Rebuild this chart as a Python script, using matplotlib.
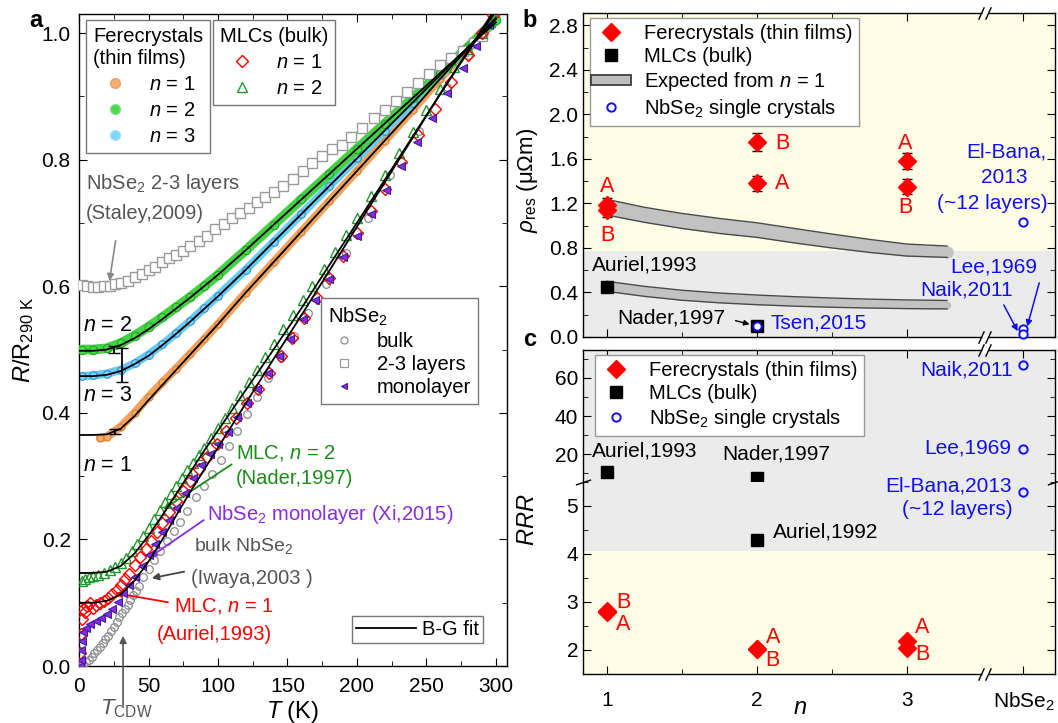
import matplotlib
matplotlib.use("Agg")
import matplotlib.pyplot as plt
import matplotlib.transforms as mtransforms
import matplotlib.patheffects as pe
from matplotlib.lines import Line2D
from matplotlib.ticker import MultipleLocator

plt.rcParams["font.family"] = ["Liberation Sans", "DejaVu Sans"]
plt.rcParams["mathtext.fontset"] = "custom"
plt.rcParams["mathtext.rm"] = "Liberation Sans"
plt.rcParams["mathtext.it"] = "Liberation Sans:italic"
plt.rcParams["mathtext.bf"] = "Liberation Sans:bold"
plt.rcParams["axes.linewidth"] = 1.0

# ---------------- panel a data: R/R290K vs T ----------------
fere1_T = [15, 20, 30, 40, 50, 60, 70, 80, 90, 100, 120, 140, 160, 180, 200, 220, 240, 260, 280, 290, 300]
fere1_R = [0.360, 0.362, 0.378, 0.400, 0.425, 0.448, 0.470, 0.493, 0.516, 0.540, 0.590, 0.638, 0.686,
           0.734, 0.782, 0.830, 0.878, 0.928, 0.976, 1.000, 1.024]
fere2_T = [2, 10, 20, 30, 40, 50, 60, 70, 80, 90, 100, 120, 140, 160, 180, 200, 220, 240, 260, 280, 290, 300]
fere2_R = [0.500, 0.500, 0.502, 0.510, 0.522, 0.536, 0.551, 0.567, 0.583, 0.600, 0.618, 0.657, 0.697,
           0.737, 0.777, 0.817, 0.857, 0.897, 0.937, 0.978, 1.000, 1.020]
fere3_T = [2, 10, 20, 30, 40, 50, 60, 70, 80, 90, 100, 120, 140, 160, 180, 200, 220, 240, 260, 280, 290, 300]
fere3_R = [0.458, 0.459, 0.462, 0.468, 0.478, 0.492, 0.508, 0.526, 0.545, 0.565, 0.585, 0.626, 0.670,
           0.714, 0.758, 0.802, 0.846, 0.890, 0.934, 0.978, 1.000, 1.022]

mlc2_T = [2, 4, 7, 10, 14, 18, 22, 26, 30, 34, 38, 42, 46, 50, 54, 58, 62, 66, 70, 74, 78, 82, 86, 90, 95,
          100, 105, 110, 116, 122, 128, 134, 140, 147, 154, 161, 168, 176, 184, 192, 200, 210, 220, 230,
          240, 250, 260, 270, 280, 290, 296]
mlc2_R = [0.135, 0.138, 0.140, 0.142, 0.144, 0.147, 0.151, 0.156, 0.163, 0.171, 0.181, 0.193, 0.205,
          0.218, 0.232, 0.246, 0.259, 0.272, 0.285, 0.297, 0.309, 0.321, 0.333, 0.345, 0.360, 0.376,
          0.392, 0.408, 0.428, 0.448, 0.468, 0.488, 0.508, 0.532, 0.555, 0.578, 0.600, 0.627, 0.654,
          0.681, 0.708, 0.742, 0.776, 0.810, 0.844, 0.878, 0.912, 0.946, 0.975, 1.000, 1.018]
mlc1_T = [1, 1.5, 2, 3, 4, 6, 8, 10, 12, 15, 18, 21, 24, 27, 30, 33, 36, 40, 44, 48, 52, 56, 60, 65, 70,
          75, 80, 86, 92, 99, 106, 113, 121, 129, 137, 145, 153, 162, 171, 180, 190, 200, 210, 220, 232,
          244, 256, 268, 280, 290, 298]
mlc1_R = [0.020, 0.050, 0.075, 0.090, 0.085, 0.095, 0.100, 0.092, 0.097, 0.100, 0.103, 0.107, 0.113,
          0.120, 0.128, 0.137, 0.146, 0.159, 0.172, 0.185, 0.198, 0.212, 0.226, 0.243, 0.260, 0.277,
          0.293, 0.311, 0.330, 0.350, 0.372, 0.392, 0.416, 0.437, 0.463, 0.490, 0.518, 0.550, 0.581,
          0.613, 0.648, 0.684, 0.719, 0.754, 0.796, 0.839, 0.880, 0.923, 0.965, 1.000, 1.028]
mono_T = [0.8, 1.2, 1.6, 2, 3, 5, 8, 12, 16, 20, 24, 28, 32, 36, 40, 45, 50, 55, 60, 65, 70, 76, 82, 88,
          94, 100, 107, 114, 121, 128, 136, 144, 152, 161, 170, 180, 190, 200, 210, 221, 232, 243, 254,
          265, 276, 286, 295]
mono_R = [0.0, 0.010, 0.025, 0.040, 0.053, 0.060, 0.066, 0.071, 0.076, 0.082, 0.090, 0.101, 0.115,
          0.128, 0.141, 0.158, 0.175, 0.193, 0.212, 0.231, 0.250, 0.274, 0.297, 0.317, 0.335, 0.350,
          0.370, 0.393, 0.415, 0.437, 0.463, 0.490, 0.517, 0.548, 0.578, 0.612, 0.646, 0.680, 0.714,
          0.752, 0.790, 0.828, 0.866, 0.905, 0.944, 0.980, 1.012]
bulk_T = [1, 3, 5, 7, 9, 11, 13, 15, 17, 19, 21, 23, 25, 27, 29, 31, 33, 35, 37, 39, 41, 43, 46, 50, 54,
          58, 63, 68, 73, 78, 84, 90, 96, 102, 108, 114, 121, 128, 136, 145, 155, 165, 178, 192, 208,
          224, 245, 265, 280, 290]
bulk_R = [0.0, 0.003, 0.006, 0.010, 0.015, 0.020, 0.025, 0.030, 0.036, 0.042, 0.048, 0.055, 0.062,
          0.070, 0.077, 0.084, 0.090, 0.097, 0.105, 0.112, 0.119, 0.127, 0.140, 0.154, 0.168, 0.182,
          0.198, 0.213, 0.227, 0.245, 0.267, 0.285, 0.303, 0.325, 0.347, 0.371, 0.398, 0.425, 0.455,
          0.487, 0.522, 0.557, 0.603, 0.652, 0.708, 0.775, 0.845, 0.915, 0.965, 1.000]
layers_T = [2, 6, 10, 14, 18, 22, 26, 30, 35, 40, 45, 50, 55, 60, 65, 70, 75, 80, 86, 92, 98, 104, 110,
            116, 122, 128, 134, 140, 147, 154, 161, 168, 175, 182, 189, 196, 204, 212, 220, 228, 236,
            244, 252, 260, 268, 276, 284, 290]
layers_R = [0.602, 0.600, 0.598, 0.599, 0.600, 0.601, 0.603, 0.605, 0.609, 0.614, 0.619, 0.625, 0.631,
            0.638, 0.644, 0.650, 0.656, 0.663, 0.671, 0.680, 0.690, 0.699, 0.708, 0.716, 0.724, 0.733,
            0.741, 0.749, 0.759, 0.770, 0.782, 0.794, 0.806, 0.816, 0.823, 0.836, 0.850, 0.865, 0.879,
            0.893, 0.907, 0.921, 0.935, 0.949, 0.961, 0.972, 0.984, 0.995]

# Bloch-Gruneisen fits
fit_T = [0, 10, 20, 30, 40, 50, 60, 70, 80, 90, 100, 120, 140, 160, 180, 200, 220, 240, 260, 280, 300]
fit_fere1 = [0.365, 0.365, 0.366, 0.375, 0.395, 0.420, 0.444, 0.468, 0.492, 0.516, 0.540, 0.590, 0.638,
             0.686, 0.734, 0.782, 0.830, 0.878, 0.928, 0.976, 1.024]
fit_fere2 = [0.498, 0.498, 0.500, 0.507, 0.518, 0.532, 0.548, 0.565, 0.582, 0.600, 0.618, 0.657, 0.697,
             0.737, 0.777, 0.817, 0.857, 0.897, 0.937, 0.977, 1.017]
fit_fere3 = [0.458, 0.458, 0.460, 0.466, 0.477, 0.490, 0.507, 0.525, 0.544, 0.564, 0.584, 0.626, 0.670,
             0.714, 0.758, 0.802, 0.846, 0.890, 0.934, 0.978, 1.022]
fit_mlc_T = [0, 10, 20, 30, 40, 50, 60, 70, 80, 90, 100, 110, 120, 130, 140, 160, 180, 200, 220, 240,
             260, 280, 300]
fit_mlc2 = [0.147, 0.147, 0.149, 0.158, 0.178, 0.206, 0.238, 0.272, 0.306, 0.340, 0.372, 0.404, 0.436,
            0.468, 0.500, 0.565, 0.633, 0.700, 0.768, 0.836, 0.904, 0.970, 1.035]
fit_mlc1 = [0.100, 0.100, 0.103, 0.113, 0.135, 0.165, 0.200, 0.238, 0.275, 0.310, 0.345, 0.380, 0.415,
            0.450, 0.485, 0.554, 0.624, 0.694, 0.764, 0.834, 0.904, 0.972, 1.040]

# error bars at low T (T, R, err) for n = 2, 3, 1
err_T = [25, 30.7, 26]
err_R = [0.500, 0.475, 0.371]
err_dR = [0.006, 0.027, 0.004]

# ---------------- panel b data: residual resistivity ----------------
b_fere_n = [1, 1, 2, 2, 3, 3]
b_fere_rho = [1.19, 1.14, 1.38, 1.75, 1.58, 1.35]
b_fere_err = [0.06, 0.06, 0.065, 0.08, 0.07, 0.065]
b_mlc_n = [1, 2]
b_mlc_rho = [0.45, 0.10]
nbse2_pos = 3.78
b_sc_x = [2, nbse2_pos, nbse2_pos, nbse2_pos]
b_sc_rho = [0.10, 1.03, 0.07, 0.03]

exp_n = [1.0, 1.25, 1.5, 1.75, 2.0, 2.25, 2.5, 2.75, 3.0, 3.27]
exp_hi_top = [1.236, 1.165, 1.110, 1.065, 1.026, 0.975, 0.925, 0.877, 0.835, 0.817]
exp_hi_bot = [1.095, 1.030, 0.975, 0.930, 0.895, 0.845, 0.800, 0.760, 0.727, 0.715]
exp_lo_top = [0.500, 0.455, 0.420, 0.395, 0.377, 0.362, 0.350, 0.340, 0.333, 0.328]
exp_lo_bot = [0.410, 0.365, 0.330, 0.307, 0.290, 0.277, 0.267, 0.260, 0.255, 0.252]

# ---------------- panel c data: RRR ----------------
c_fere_n = [1, 1, 2, 2, 3, 3]
c_fere_rrr = [2.79, 2.81, 2.03, 2.02, 2.19, 2.05]
c_mlc_n = [1, 2, 2]
c_mlc_rrr = [11.0, 7.4, 4.29]
c_sc_x = [nbse2_pos, nbse2_pos, nbse2_pos]
c_sc_rrr = [67.0, 23.0, 5.3]
c_break = 5.5

RED = "#FF0000"
BLUE = "#1010EE"
GREEN_T = "#1A8C1A"
PURPLE = "#8A2BE2"
GREY_T = "#555555"
YELLOW = "#FFFDE6"
LGREY = "#EBEBEB"
FS = 14.5

fig = plt.figure(figsize=(10.58, 7.23), dpi=100)

# ======================= panel a =======================
ax = fig.add_axes([0.0747, 0.0788, 0.4045, 0.9018])
ax.plot(fere1_T, fere1_R, color="#F3A25A", lw=6, zorder=2, solid_capstyle="round")
ax.plot(fere1_T, fere1_R, ls="none", marker="o", ms=5, mfc="#F7AD6E", mec="#E47F2A", mew=0.8, zorder=2)
ax.plot(fere3_T, fere3_R, color="#66CCF5", lw=6, zorder=2, solid_capstyle="round")
ax.plot(fere3_T, fere3_R, ls="none", marker="o", ms=5.5, mfc="#7FD6F7", mec="#2E8BE0", mew=0.8, zorder=2)
ax.plot(fere2_T, fere2_R, color="#44D244", lw=7, zorder=3, solid_capstyle="round")
ax.plot(fere2_T, fere2_R, ls="none", marker="o", ms=6, mfc="#4CD94C", mec="#22A822", mew=0.8, zorder=3)

ax.plot(layers_T, layers_R, ls="none", marker="s", ms=7, mfc="white", mec="#9A9A9A", mew=1, zorder=3)
ax.plot(bulk_T, bulk_R, ls="none", marker="o", ms=5.5, mfc="none", mec="#8A8A8A", mew=0.9, zorder=3)
ax.plot(mlc2_T, mlc2_R, ls="none", marker="^", ms=7, mfc="none", mec="#22992A", mew=1, zorder=3)
ax.plot(mlc1_T, mlc1_R, ls="none", marker="D", ms=6, mfc="none", mec=RED, mew=1, zorder=3)
ax.plot(mono_T, mono_R, ls="none", marker="<", ms=6, mfc="#8A2BE2", mec="#3B1FA0", mew=0.8, zorder=4)

for fy in (fit_fere1, fit_fere2, fit_fere3):
    ax.plot(fit_T, fy, color="black", lw=1.3, zorder=5)
for fy in (fit_mlc1, fit_mlc2):
    ax.plot(fit_mlc_T, fy, color="black", lw=1.3, zorder=5)
ax.errorbar(err_T, err_R, yerr=err_dR, fmt="none", ecolor="black", elinewidth=1.3, capsize=4, zorder=6)

ax.set_xlim(0, 308)
ax.set_ylim(0, 1.03)
ax.xaxis.set_major_locator(MultipleLocator(50))
ax.xaxis.set_minor_locator(MultipleLocator(25))
ax.yaxis.set_major_locator(MultipleLocator(0.2))
ax.yaxis.set_minor_locator(MultipleLocator(0.1))
ax.tick_params(which="both", direction="in", top=True, right=True, labelsize=15)
ax.tick_params(which="major", length=6)
ax.tick_params(which="minor", length=3.5)
ax.tick_params(axis="x", pad=8)
ax.tick_params(axis="y", pad=6)
ax.set_xlabel(r"$T$ (K)", fontsize=17, labelpad=2)
ax.set_ylabel(r"$R$/R$_{\rm 290\ K}$", fontsize=17, labelpad=4)

# legends of panel a
fh = [Line2D([], [], ls="none", marker="o", ms=7, mfc="#F7AD6E", mec="#E8A070"),
      Line2D([], [], ls="none", marker="o", ms=7, mfc="#4CD94C", mec="#7AE07A"),
      Line2D([], [], ls="none", marker="o", ms=7, mfc="#7FD6F7", mec="#A0E0F8")]
leg1 = ax.legend(fh, [r"$n$ = 1", r"$n$ = 2", r"$n$ = 3"], title="Ferecrystals\n(thin films)",
                 loc="upper left", bbox_to_anchor=(0.016, 0.991), borderaxespad=0, fontsize=FS,
                 title_fontsize=FS, alignment="left", fancybox=False, edgecolor="#777777",
                 framealpha=1, handlelength=2.2, handletextpad=0.6, labelspacing=0.35, borderpad=0.35)
ax.add_artist(leg1)
mh = [Line2D([], [], ls="none", marker="D", ms=6, mfc="none", mec=RED, mew=1),
      Line2D([], [], ls="none", marker="^", ms=7, mfc="none", mec="#22992A", mew=1)]
leg2 = ax.legend(mh, [r"$n$ = 1", r"$n$ = 2"], title="MLCs (bulk)", loc="upper left",
                 bbox_to_anchor=(0.313, 0.991), borderaxespad=0, fontsize=FS, title_fontsize=FS,
                 alignment="left", fancybox=False, edgecolor="#777777", framealpha=1,
                 handlelength=2.2, handletextpad=0.6, labelspacing=0.35, borderpad=0.35)
ax.add_artist(leg2)
nh = [Line2D([], [], ls="none", marker="o", ms=5, mfc="none", mec="#8A8A8A", mew=0.9),
      Line2D([], [], ls="none", marker="s", ms=6, mfc="none", mec="#9A9A9A", mew=0.9),
      Line2D([], [], ls="none", marker="<", ms=5, mfc="#8A2BE2", mec="#3B1FA0", mew=0.8)]
leg3 = ax.legend(nh, ["bulk", "2-3 layers", "monolayer"], title="NbSe$_2$", loc="upper left",
                 bbox_to_anchor=(0.566, 0.564), borderaxespad=0, fontsize=FS, title_fontsize=FS,
                 alignment="left", fancybox=False, edgecolor="#777777", framealpha=1,
                 handlelength=1.6, handletextpad=0.8, labelspacing=0.2, borderpad=0.35)
ax.add_artist(leg3)
ax.legend([Line2D([], [], color="black", lw=1.3)], ["B-G fit"], loc="lower right",
          bbox_to_anchor=(0.944, 0.035), borderaxespad=0, fontsize=FS, fancybox=False,
          edgecolor="#777777", framealpha=1, handlelength=3.0, handletextpad=0.3, borderpad=0.2)

# annotations of panel a
ax.text(5, 0.763, "NbSe$_2$ 2-3 layers", color=GREY_T, fontsize=FS, va="center")
ax.text(5, 0.715, "(Staley,2009)", color=GREY_T, fontsize=FS, va="center")
ax.annotate("", xy=(21.6, 0.604), xytext=(26.6, 0.676),
            arrowprops=dict(arrowstyle="-|>", color="#888888", lw=1.2, mutation_scale=10))
ax.text(3, 0.538, r"$n$ = 2", fontsize=FS + 1, va="center")
ax.text(3, 0.427, r"$n$ = 3", fontsize=FS + 1, va="center")
ax.text(3, 0.316, r"$n$ = 1", fontsize=FS + 1, va="center")
ax.text(113, 0.337, r"MLC, $n$ = 2", color=GREEN_T, fontsize=FS, va="center")
ax.text(113, 0.297, "(Nader,1997)", color=GREEN_T, fontsize=FS, va="center")
ax.annotate("", xy=(59, 0.245), xytext=(111.5, 0.321),
            arrowprops=dict(arrowstyle="-|>", color=GREEN_T, lw=1.3, mutation_scale=10))
ax.text(92, 0.240, "NbSe$_2$ monolayer (Xi,2015)", color=PURPLE, fontsize=FS, va="center")
ax.annotate("", xy=(49, 0.169), xytext=(91.4, 0.233),
            arrowprops=dict(arrowstyle="-|>", color=PURPLE, lw=1.3, mutation_scale=10))
ax.text(83, 0.190, "bulk NbSe$_2$", color=GREY_T, fontsize=FS - 0.5, va="center")
ax.text(80.5, 0.139, "(Iwaya,2003 )", color=GREY_T, fontsize=FS, va="center")
ax.annotate("", xy=(50.4, 0.138), xytext=(77.7, 0.150),
            arrowprops=dict(arrowstyle="-|>", color="#444444", lw=1.3, mutation_scale=10))
ax.text(68, 0.095, r"MLC, $n$ = 1", color=RED, fontsize=FS, va="center")
ax.text(56, 0.050, "(Auriel,1993)", color=RED, fontsize=FS, va="center")
ax.annotate("", xy=(24, 0.116), xytext=(66, 0.100),
            arrowprops=dict(arrowstyle="-|>", color=RED, lw=1.3, mutation_scale=10))
ax.annotate("", xy=(31.7, 0.052), xytext=(31.7, -0.066), annotation_clip=False,
            arrowprops=dict(arrowstyle="-|>", color="#555555", lw=1.2, mutation_scale=10))
ax.text(15, -0.068, r"$T_{\rm CDW}$", color=GREY_T, fontsize=16, va="center", clip_on=False)
fig.text(0.028, 0.972, "a", fontsize=17, fontweight="bold", va="center")


def x_break(axis, x, y_ax, dx):
    trans = mtransforms.blended_transform_factory(axis.transData, axis.transAxes)
    axis.plot([x], [y_ax], transform=trans, ls="none", marker="s", ms=5, mfc="white", mec="none",
              clip_on=False, zorder=20)
    axis.plot([x - dx, x + dx], [y_ax, y_ax], transform=trans, ls="none",
              marker=[(-1, -2.2), (1, 2.2)], ms=9, mec="black", mew=1, clip_on=False, zorder=21)


def style_nx(axis):
    axis.set_xlim(0.84, 3.99)
    axis.set_xticks([1, 2, 3, nbse2_pos])
    axis.set_xticks([1.5, 2.5], minor=True)


# ======================= panel b =======================
bx = fig.add_axes([0.551, 0.5339, 0.4461, 0.4481])
bx.set_facecolor(YELLOW)
bx.axhspan(0, 0.77, color=LGREY, lw=0, zorder=0)
for top, bot, cap0, cap1 in ((exp_hi_top, exp_hi_bot, 11.5, 9), (exp_lo_top, exp_lo_bot, 7, 5.5)):
    mid = [(t + b) / 2 for t, b in zip(top, bot)]
    bx.fill_between(exp_n, bot, top, color="#C2C2C2", lw=0, zorder=2)
    bx.plot([exp_n[0]], [mid[0]], marker="o", ms=cap0, color="#C2C2C2", mec="none", zorder=2)
    bx.plot([exp_n[-1]], [mid[-1]], marker="o", ms=cap1, color="#C2C2C2", mec="none", zorder=2)
    bx.plot(exp_n, top, color="#4A4A4A", lw=1.0, zorder=3)
    bx.plot(exp_n, bot, color="#4A4A4A", lw=1.0, zorder=3)
bx.errorbar(b_fere_n, b_fere_rho, yerr=b_fere_err, fmt="D", ms=9, mfc=RED, mec=RED,
            ecolor="black", elinewidth=1.2, capsize=3.5, zorder=5)
bx.plot(b_mlc_n, b_mlc_rho, ls="none", marker="s", ms=9, color="black", zorder=5)
bx.plot(b_sc_x, b_sc_rho, ls="none", marker="o", ms=6, mfc="white", mec=BLUE, mew=1.4,
        zorder=6, clip_on=False)
style_nx(bx)
bx.set_ylim(0, 2.91)
bx.yaxis.set_major_locator(MultipleLocator(0.4))
bx.yaxis.set_minor_locator(MultipleLocator(0.2))
bx.tick_params(which="both", direction="in", top=True, right=True, labelsize=15, labelbottom=False)
bx.tick_params(which="major", length=6)
bx.tick_params(which="minor", length=3.5)
x_break(bx, 3.52, 1.0, 0.022)
x_break(bx, 3.52, 0.0, 0.022)

for xx, yy, s in ((1.0, 1.35, "A"), (1.0, 0.915, "B"), (2.17, 1.74, "B"), (2.17, 1.38, "A"),
                  (2.99, 1.74, "A"), (2.99, 1.16, "B")):
    bx.text(xx, yy, s, color=RED, fontsize=FS + 1, ha="center", va="center")
bx.text(3.93, 1.66, "El-Bana,", color=BLUE, fontsize=FS + 0.5, ha="right", va="center")
bx.text(3.65, 1.43, "2013", color=BLUE, fontsize=FS + 0.5, ha="center", va="center")
bx.text(3.94, 1.20, "(~12 layers)", color=BLUE, fontsize=FS + 0.5, ha="right", va="center")
bx.text(3.87, 0.63, "Lee,1969", color=BLUE, fontsize=FS + 0.5, ha="right", va="center")
bx.text(3.71, 0.42, "Naik,2011", color=BLUE, fontsize=FS + 0.5, ha="right", va="center")
bx.annotate("", xy=(3.80, 0.07), xytext=(3.89, 0.51),
            arrowprops=dict(arrowstyle="-|>", color=BLUE, lw=1.1, mutation_scale=9))
bx.annotate("", xy=(3.75, 0.03), xytext=(3.64, 0.31),
            arrowprops=dict(arrowstyle="-|>", color=BLUE, lw=1.1, mutation_scale=9))
bx.text(0.90, 0.646, "Auriel,1993", fontsize=FS + 0.5, va="center")
bx.text(1.067, 0.17, "Nader,1997", fontsize=FS + 0.5, va="center")
bx.annotate("", xy=(1.97, 0.108), xytext=(1.84, 0.153),
            arrowprops=dict(arrowstyle="-|>", color="black", lw=1.0, mutation_scale=8))
bx.text(2.09, 0.126, "Tsen,2015", color=BLUE, fontsize=FS + 0.5, va="center")

band_h = Line2D([], [], color="#BDBDBD", lw=6,
                path_effects=[pe.Stroke(linewidth=8.5, foreground="#3A3A3A"), pe.Normal()])
bh = [Line2D([], [], ls="none", marker="D", ms=9, color=RED),
      Line2D([], [], ls="none", marker="s", ms=9, color="black"),
      band_h,
      Line2D([], [], ls="none", marker="o", ms=6, mfc="white", mec=BLUE, mew=1.4)]
bx.legend(bh, ["Ferecrystals (thin films)", "MLCs (bulk)", r"Expected from $n$ = 1",
               "NbSe$_2$ single crystals"], loc="upper left", bbox_to_anchor=(0.015, 0.985),
          borderaxespad=0, fontsize=FS, fancybox=False, edgecolor="#999999", framealpha=1,
          handlelength=1.5, handletextpad=0.9, labelspacing=0.2, borderpad=0.3)
fig.text(0.494, 0.972, "b", fontsize=17, fontweight="bold", va="center")
fig.text(0.499, 0.751, r"$\rho_{\rm res}$ (μΩm)", fontsize=16, rotation=90, ha="center", va="center")

# ======================= panel c (broken y axis) =======================
cu = fig.add_axes([0.551, 0.3333, 0.4461, 0.1826])
cl = fig.add_axes([0.551, 0.0678, 0.4461, 0.2656])
cl.set_zorder(3)
cu.set_zorder(2)
cl.set_facecolor(YELLOW)
cl.axhspan(4.07, c_break, color=LGREY, lw=0, zorder=0)
cu.set_facecolor(LGREY)
for cax, keep in ((cl, lambda v: v <= c_break), (cu, lambda v: v > c_break)):
    fn = [n for n, v in zip(c_fere_n, c_fere_rrr) if keep(v)]
    fv = [v for v in c_fere_rrr if keep(v)]
    if fv:
        cax.errorbar(fn, fv, yerr=0.02, fmt="D", ms=9, mfc=RED, mec=RED, ecolor="black",
                     elinewidth=1.2, capsize=3, zorder=5)
    mn = [n for n, v in zip(c_mlc_n, c_mlc_rrr) if keep(v)]
    mv = [v for v in c_mlc_rrr if keep(v)]
    cax.plot(mn, mv, ls="none", marker="s", ms=9, color="black", zorder=5)
    sn = [n for n, v in zip(c_sc_x, c_sc_rrr) if keep(v)]
    sv = [v for v in c_sc_rrr if keep(v)]
    cax.plot(sn, sv, ls="none", marker="o", ms=6, mfc="none", mec=BLUE, mew=1.4, zorder=6)
    style_nx(cax)
    cax.tick_params(which="both", direction="in", right=True, labelsize=15)
    cax.tick_params(which="major", length=6)
    cax.tick_params(which="minor", length=3.5)
cl.set_ylim(1.5, c_break)
cl.yaxis.set_major_locator(MultipleLocator(1))
cl.yaxis.set_minor_locator(MultipleLocator(0.5))
cl.spines["top"].set_visible(False)
cl.tick_params(which="both", top=False)
cl.tick_params(axis="x", pad=12)
cl.set_xticklabels(["1", "2", "3", "NbSe$_2$"])
fig.text(0.756, 0.006, r"$n$", fontsize=17, ha="center", va="bottom")
cu.set_ylim(c_break, 74.6)
cu.yaxis.set_major_locator(MultipleLocator(20))
cu.yaxis.set_minor_locator(MultipleLocator(10))
cu.set_yticks([20, 40, 60])
cu.spines["bottom"].set_visible(False)
cu.tick_params(which="both", top=True, bottom=False, labelbottom=False)
x_break(cu, 3.52, 1.0, 0.022)
x_break(cl, 3.52, 0.0, 0.022)
for xa in (0.0, 1.0):
    cl.plot([xa], [1.0], transform=cl.transAxes, ls="none", marker=[(-3, -1), (3, 1)], ms=11,
            mec="black", mew=1, clip_on=False, zorder=21)

for xx, yy, s in ((1.107, 2.98, "B"), (1.107, 2.54, "A"), (2.107, 2.25, "A"), (2.107, 1.79, "B"),
                  (3.107, 2.46, "A"), (3.107, 1.90, "B")):
    cl.text(xx, yy, s, color=RED, fontsize=FS + 1, ha="center", va="center")
cu.text(0.90, 21.7, "Auriel,1993", fontsize=FS + 0.5, va="center")
cu.text(1.77, 20.0, "Nader,1997", fontsize=FS + 0.5, va="center")
cl.text(2.11, 4.46, "Auriel,1992", fontsize=FS + 0.5, va="center")
cu.text(3.71, 64.0, "Naik,2011", color=BLUE, fontsize=FS + 0.5, ha="right", va="center")
cu.text(3.70, 23.3, "Lee,1969", color=BLUE, fontsize=FS + 0.5, ha="right", va="center")
cl.text(3.70, 5.42, "El-Bana,2013", color=BLUE, fontsize=FS + 0.5, ha="right", va="center",
        clip_on=False, zorder=10)
cl.text(3.71, 4.92, "(~12 layers)", color=BLUE, fontsize=FS + 0.5, ha="right", va="center")

ch = [Line2D([], [], ls="none", marker="D", ms=9, color=RED),
      Line2D([], [], ls="none", marker="s", ms=9, color="black"),
      Line2D([], [], ls="none", marker="o", ms=6, mfc="white", mec=BLUE, mew=1.4)]
leg_c = cu.legend(ch, ["Ferecrystals (thin films)", "MLCs (bulk)", "NbSe$_2$ single crystals"],
                  loc="upper left", bbox_to_anchor=(0.025, 0.962), borderaxespad=0, fontsize=FS,
                  fancybox=False, edgecolor="#999999", framealpha=1, handlelength=1.5,
                  handletextpad=0.9, labelspacing=0.2, borderpad=0.3)
leg_c.set_zorder(30)
fig.text(0.494, 0.530, "c", fontsize=17, fontweight="bold", va="center")
fig.text(0.499, 0.281, r"$RRR$", fontsize=17, rotation=90, ha="center", va="center")

fig.savefig("out.png", dpi=100)
